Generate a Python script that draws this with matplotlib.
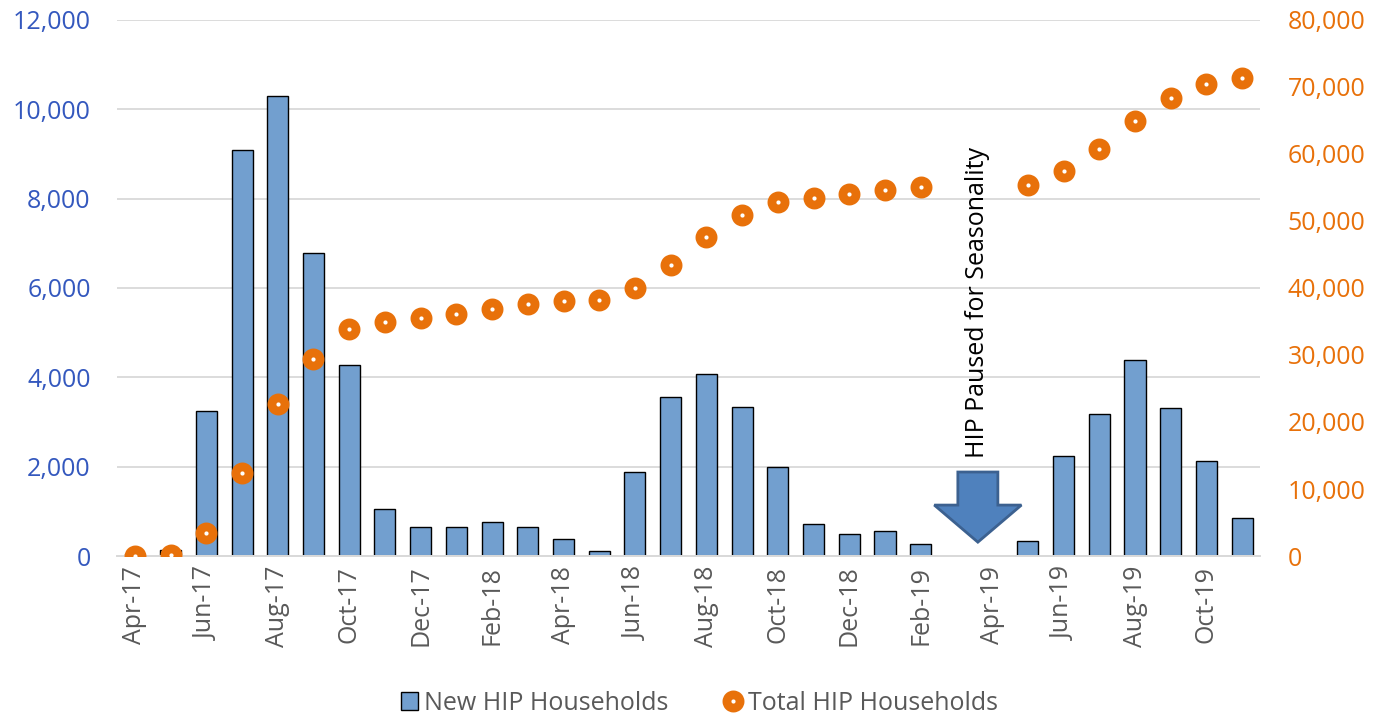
import numpy as np
import matplotlib.pyplot as plt
from matplotlib.lines import Line2D
from matplotlib.patches import Patch, FancyArrow

months = ['Apr-17', 'May-17', 'Jun-17', 'Jul-17', 'Aug-17', 'Sep-17', 'Oct-17', 'Nov-17',
          'Dec-17', 'Jan-18', 'Feb-18', 'Mar-18', 'Apr-18', 'May-18', 'Jun-18', 'Jul-18',
          'Aug-18', 'Sep-18', 'Oct-18', 'Nov-18', 'Dec-18', 'Jan-19', 'Feb-19', 'Mar-19',
          'Apr-19', 'May-19', 'Jun-19', 'Jul-19', 'Aug-19', 'Sep-19', 'Oct-19', 'Nov-19']

# new households per month (nan = paused)
new_hh = [20, 130, 3250, 9090, 10300, 6790, 4280, 1060,
          660, 640, 760, 650, 380, 110, 1870, 3570,
          4080, 3340, 2000, 720, 490, 560, 270, np.nan,
          np.nan, 330, 2240, 3180, 4380, 3320, 2130, 840]

# cumulative households
total_hh = [0, 150, 3400, 12450, 22650, 29450, 33850, 34930,
            35550, 36150, 36900, 37600, 38050, 38150, 39950, 43500,
            47600, 50900, 52850, 53500, 54050, 54650, 55000, np.nan,
            np.nan, 55300, 57450, 60750, 64950, 68300, 70500, 71400]

left_ticks = [0, 2000, 4000, 6000, 8000, 10000, 12000]
right_ticks = [0, 10000, 20000, 30000, 40000, 50000, 60000, 70000, 80000]

plt.rcParams['font.family'] = ['Open Sans', 'DejaVu Sans']

blue_bar = '#729FCF'
orange = '#E8710A'
blue_txt = '#3458BE'
grey_txt = '#595959'
fs = 18

x = np.arange(len(months))

fig = plt.figure(figsize=(13.9, 7.19), dpi=100)
ax = fig.add_axes([0.0842, 0.2267, 0.8223, 0.7455])
ax2 = ax.twinx()

ax.bar(x, new_hh, width=0.59, color=blue_bar, edgecolor='black', linewidth=1, zorder=2)
ax.set_ylim(0, 12000)
ax.set_xlim(-0.5, len(months) - 0.5)
ax.set_yticks(left_ticks)
ax.set_yticklabels(['{:,}'.format(v) for v in left_ticks])
ax.yaxis.grid(True, color='#D9D9D9', linewidth=1.3, zorder=0)
ax.set_axisbelow(True)
ax.tick_params(axis='y', colors=blue_txt, labelsize=fs, length=0, pad=19)
ax.set_xticks(x[::2])
ax.set_xticklabels(months[::2], rotation=90)
ax.tick_params(axis='x', colors=grey_txt, labelsize=fs, length=0, pad=7)

ax2.plot(x, total_hh, linestyle='none', marker='o', markersize=9.5,
         markerfacecolor='white', markeredgecolor=orange, markeredgewidth=6.3, zorder=3)
ax2.set_ylim(0, 80000)
ax2.set_yticks(right_ticks)
ax2.set_yticklabels(['{:,}'.format(v) for v in right_ticks])
ax2.tick_params(axis='y', colors=orange, labelsize=fs, length=0, pad=20)

for a in (ax, ax2):
    for s in ['top', 'left', 'right']:
        a.spines[s].set_visible(False)
    a.spines['bottom'].set_color('#D9D9D9')
    a.spines['bottom'].set_linewidth(1.3)

# paused marker
arr = FancyArrow(23.6, 1880, 0, -1570, width=1.12, head_width=2.44, head_length=830,
                 length_includes_head=True, facecolor='#4F81BD', edgecolor='#3C6190',
                 linewidth=2, zorder=4)
ax.add_patch(arr)
ax.text(23.6, 2200, 'HIP Paused for Seasonality', rotation=90, ha='center', va='bottom',
        fontsize=fs, color='black', zorder=5)

handles = [Patch(facecolor=blue_bar, edgecolor='black', linewidth=1),
           Line2D([], [], linestyle='none', marker='o', markersize=9.5, markerfacecolor='white',
                  markeredgecolor=orange, markeredgewidth=6.3)]
leg = fig.legend(handles, ['New HIP Households', 'Total HIP Households'], loc='center',
                 bbox_to_anchor=(0.503, 0.022), ncol=2, frameon=False, fontsize=fs,
                 handlelength=0.7, handletextpad=0.25, columnspacing=2.2)
for t in leg.get_texts():
    t.set_color(grey_txt)

plt.savefig('out.png')
